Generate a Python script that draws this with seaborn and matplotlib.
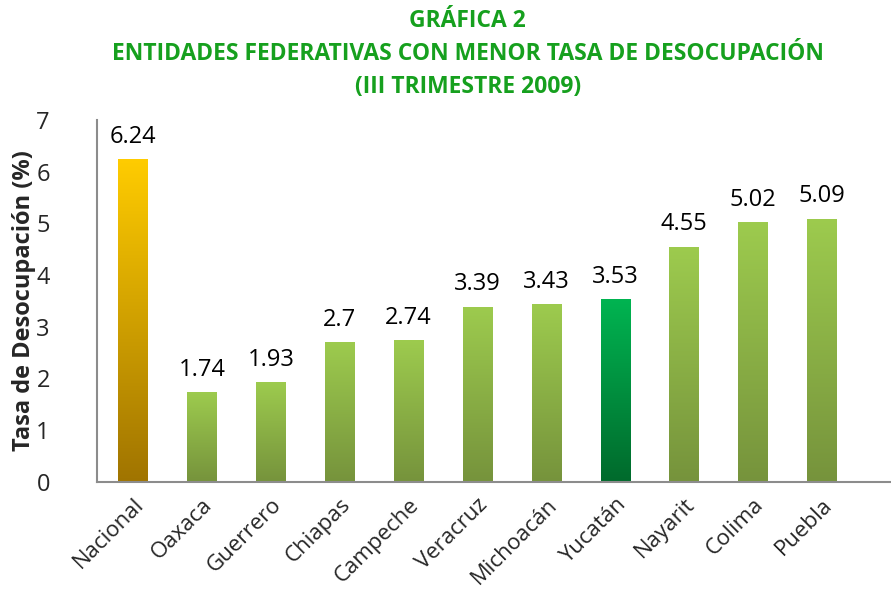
import numpy as np
import pandas as pd
import seaborn as sns
import matplotlib.pyplot as plt
from matplotlib.colors import LinearSegmentedColormap

entidades = ["Nacional", "Oaxaca", "Guerrero", "Chiapas", "Campeche", "Veracruz",
             "Michoacán", "Yucatán", "Nayarit", "Colima", "Puebla"]
tasa = [6.24, 1.74, 1.93, 2.7, 2.74, 3.39, 3.43, 3.53, 4.55, 5.02, 5.09]
etiquetas = ["6.24", "1.74", "1.93", "2.7", "2.74", "3.39", "3.43", "3.53", "4.55", "5.02", "5.09"]

# gradient colours (top, bottom)
grad_nacional = ("#FFCC00", "#A07400")
grad_verde = ("#9DCB4E", "#76933C")
grad_yucatan = ("#00B451", "#006A2C")

df = pd.DataFrame({"Entidad": entidades, "Tasa": tasa})

sns.set_style("white")
plt.rcParams["font.family"] = ["Open Sans", "DejaVu Sans"]

fig = plt.figure(figsize=(8.91, 6.06), dpi=100)
ax = fig.add_axes([0.109, 0.205, 0.891, 0.597])

sns.barplot(df, x="Entidad", y="Tasa", color="#9DCB4E", width=0.43, ax=ax)

for i, patch in enumerate(ax.patches):
    if entidades[i] == "Nacional":
        top, bot = grad_nacional
    elif entidades[i] == "Yucatán":
        top, bot = grad_yucatan
    else:
        top, bot = grad_verde
    cmap = LinearSegmentedColormap.from_list("g", [bot, top])
    x0, y0 = patch.get_x(), patch.get_y()
    w, h = patch.get_width(), patch.get_height()
    grad = np.linspace(0, 1, 256).reshape(-1, 1)
    im = ax.imshow(grad, cmap=cmap, origin="lower", aspect="auto",
                   extent=[x0, x0 + w, y0, y0 + h], zorder=2)
    im.set_clip_path(patch)
    patch.set_facecolor("none")
    patch.set_edgecolor("none")
    ax.text(x0 + w / 2, h + 0.2, etiquetas[i], ha="center", va="bottom",
            fontsize=17, color="black")

ax.set_xlim(-0.52, 11.0)
ax.set_ylim(0, 7)
ax.set_yticks(range(0, 8))
ax.tick_params(axis="y", labelsize=17, length=0, pad=34)
ax.tick_params(axis="x", labelsize=16, length=0, pad=9)
plt.setp(ax.get_xticklabels(), rotation=45, ha="right", rotation_mode="anchor")

for s in ["top", "right"]:
    ax.spines[s].set_visible(False)
for s in ["left", "bottom"]:
    ax.spines[s].set_color("#8C8C8C")
    ax.spines[s].set_linewidth(1.5)

ax.set_xlabel("")
ax.set_ylabel("Tasa de Desocupación (%)", fontsize=17, fontweight="bold", labelpad=0)

fig.text(0.525, 0.985, "GRÁFICA 2\nENTIDADES FEDERATIVAS CON MENOR TASA DE DESOCUPACIÓN\n(III TRIMESTRE 2009)",
         ha="center", va="top", fontsize=16.5, fontweight="bold", color="#16A01E",
         linespacing=1.5)

fig.savefig("out.png", dpi=100)
